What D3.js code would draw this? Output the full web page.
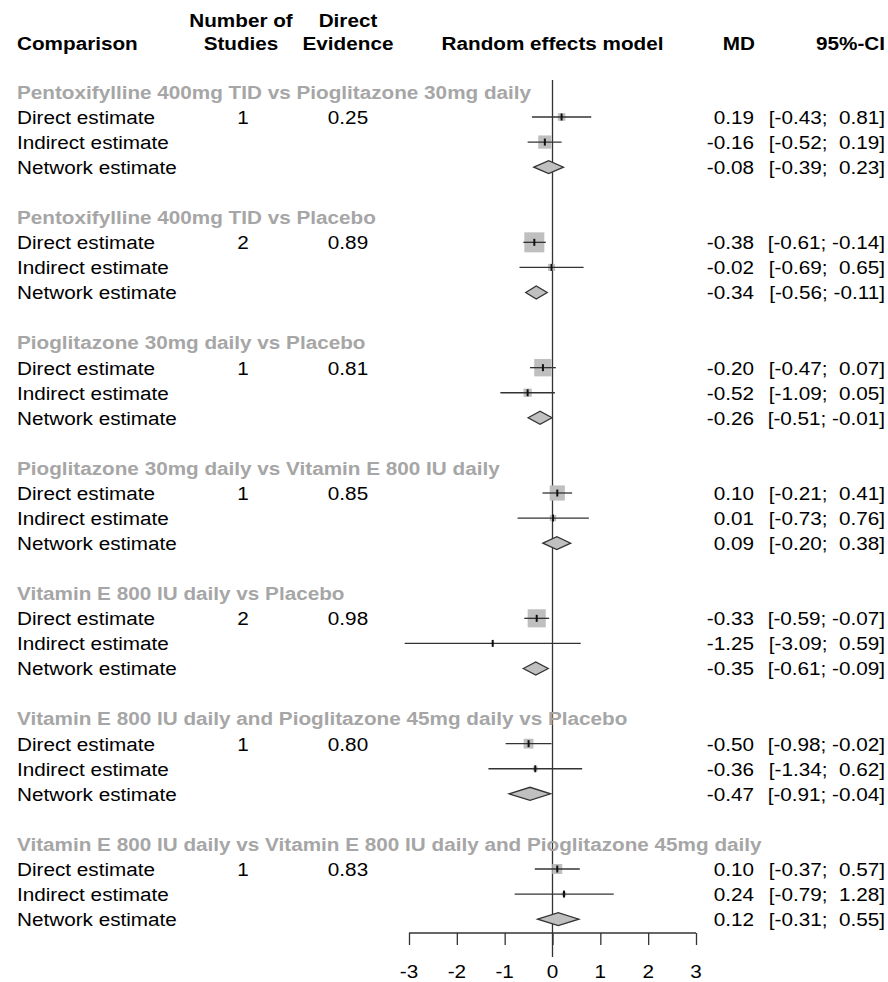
<!DOCTYPE html>
<html><head><meta charset="utf-8">
<script src="https://cdn.jsdelivr.net/npm/d3@7"></script>
<style>
html,body{margin:0;padding:0;background:#fff;}
text{font-family:"Liberation Sans",Arial,Helvetica,sans-serif;white-space:pre;}
</style></head>
<body><svg id="c" width="888" height="982"></svg>
<script>
const comparisons = [
  "Pentoxifylline 400mg TID vs Pioglitazone 30mg daily",
  "Pentoxifylline 400mg TID vs Placebo",
  "Pioglitazone 30mg daily vs Placebo",
  "Pioglitazone 30mg daily vs Vitamin E 800 IU daily",
  "Vitamin E 800 IU daily vs Placebo",
  "Vitamin E 800 IU daily and Pioglitazone 45mg daily vs Placebo",
  "Vitamin E 800 IU daily vs Vitamin E 800 IU daily and Pioglitazone 45mg daily"
];
const rowLabels = ["Direct estimate","Indirect estimate","Network estimate"];
const nStudies = [1,2,1,1,2,1,1];
const directEvidence = ["0.25","0.89","0.81","0.85","0.98","0.80","0.83"];
// [MD, lower, upper]
const directEst   = [[0.19,-0.43,0.81],[-0.38,-0.61,-0.14],[-0.20,-0.47,0.07],[0.10,-0.21,0.41],[-0.33,-0.59,-0.07],[-0.50,-0.98,-0.02],[0.10,-0.37,0.57]];
const indirectEst = [[-0.16,-0.52,0.19],[-0.02,-0.69,0.65],[-0.52,-1.09,0.05],[0.01,-0.73,0.76],[-1.25,-3.09,0.59],[-0.36,-1.34,0.62],[0.24,-0.79,1.28]];
const networkEst  = [[-0.08,-0.39,0.23],[-0.34,-0.56,-0.11],[-0.26,-0.51,-0.01],[0.09,-0.20,0.38],[-0.35,-0.61,-0.09],[-0.47,-0.91,-0.04],[0.12,-0.31,0.55]];
const xTicks = [-3,-2,-1,0,1,2,3];
const headers = {comparison:"Comparison", studies:["Number of","Studies"], evidence:["Direct","Evidence"], model:"Random effects model", md:"MD", ci:"95%-CI"};

const svg = d3.select("#c");
const FS = 19, SX = 1.09;
const x = d3.scaleLinear().domain([-3,3]).range([409,696]);
const y = d3.scaleLinear().domain([1,31]).range([117,869]); // row index -> y center
const f = v => { const s = v.toFixed(2); return s === "-0.00" ? "0.00" : s; };
const NB = "\u00a0";
const pad = v => (v < 0 ? "" : NB + NB) + f(v);
const ciText = d => "[" + f(d[1]) + ";" + (d[2] < 0 ? NB : "") + pad(d[2]) + "]";

function txt(parent, px, py, s, anchor, opts){
  const t = parent.append("text")
    .attr("transform",`translate(${px},${py}) scale(${SX},1)`)
    .attr("text-anchor",anchor||"start")
    .attr("font-size",FS).text(s);
  if (opts && opts.central) t.attr("dy","0.36em");
  return t;
}

// header
const hd = svg.append("g").attr("font-weight","bold").attr("fill","#000");
txt(hd,17,50,headers.comparison);
headers.studies.forEach((t,i)=>txt(hd,241,27+23*i,t,"middle"));
headers.evidence.forEach((t,i)=>txt(hd,348,27+23*i,t,"middle"));
txt(hd,x(0),50,headers.model,"middle");
txt(hd,755,50,headers.md,"end");
txt(hd,885,50,headers.ci,"end");

// weights -> box size (area proportional to inverse variance)
const allW = [];
[directEst, indirectEst].forEach(arr=>arr.forEach(d=>allW.push(1/Math.pow((d[2]-d[1])/3.92,2))));
const boxSide = d3.scaleSqrt().domain([0,d3.max(allW)]).range([0,20]);

// zero line
svg.append("line").attr("x1",x(0)).attr("x2",x(0)).attr("y1",80).attr("y2",957)
  .attr("stroke","#333").attr("stroke-width",1.3);

comparisons.forEach((title,g)=>{
  const base = g*5;
  txt(svg,17,y(base),title,"start",{central:true}).attr("font-weight","bold").attr("fill","#a6a6a6");
  const ests = [directEst[g], indirectEst[g], networkEst[g]];
  ests.forEach((d,r)=>{
    const yy = y(base+1+r);
    const t = svg.append("g").attr("fill","#000");
    txt(t,17,yy,rowLabels[r],"start",{central:true});
    if (r===0){
      txt(t,243,yy,String(nStudies[g]),"middle",{central:true});
      txt(t,348,yy,directEvidence[g],"middle",{central:true});
    }
    txt(t,754,yy,f(d[0]),"end",{central:true});
    txt(t,885,yy,ciText(d),"end",{central:true});
    if (r<2){
      const w = 1/Math.pow((d[2]-d[1])/3.92,2);
      const s = boxSide(w);
      svg.append("rect").attr("x",x(d[0])-s/2).attr("y",yy-s/2).attr("width",s).attr("height",s).attr("fill","#bfbfbf");
      svg.append("line").attr("x1",x(d[1])).attr("x2",x(d[2])).attr("y1",yy).attr("y2",yy).attr("stroke","#333").attr("stroke-width",1.3);
      svg.append("line").attr("x1",x(d[0])).attr("x2",x(d[0])).attr("y1",yy-3.5).attr("y2",yy+3.5).attr("stroke","#111").attr("stroke-width",2);
    } else {
      const h = 6.5;
      svg.append("path").attr("d",`M${x(d[1])},${yy}L${x(d[0])},${yy-h}L${x(d[2])},${yy}L${x(d[0])},${yy+h}Z`)
        .attr("fill","#c0c0c0").attr("stroke","#333").attr("stroke-width",1.3);
    }
  });
});

// axis
const ax = svg.append("g").attr("transform","translate(0,933)")
  .call(d3.axisBottom(x).tickValues(xTicks).tickSize(12).tickFormat(()=>""));
ax.select(".domain").attr("stroke","#333").attr("stroke-width",1.3).attr("d",`M${x(-3)},0H${x(3)}`);
ax.selectAll(".tick line").attr("stroke","#333").attr("stroke-width",1.3);
ax.selectAll(".tick text").remove();
xTicks.forEach(v=>txt(svg,x(v),978,String(v).replace("\u2212","-"),"middle").attr("fill","#000"));
</script></body></html>
